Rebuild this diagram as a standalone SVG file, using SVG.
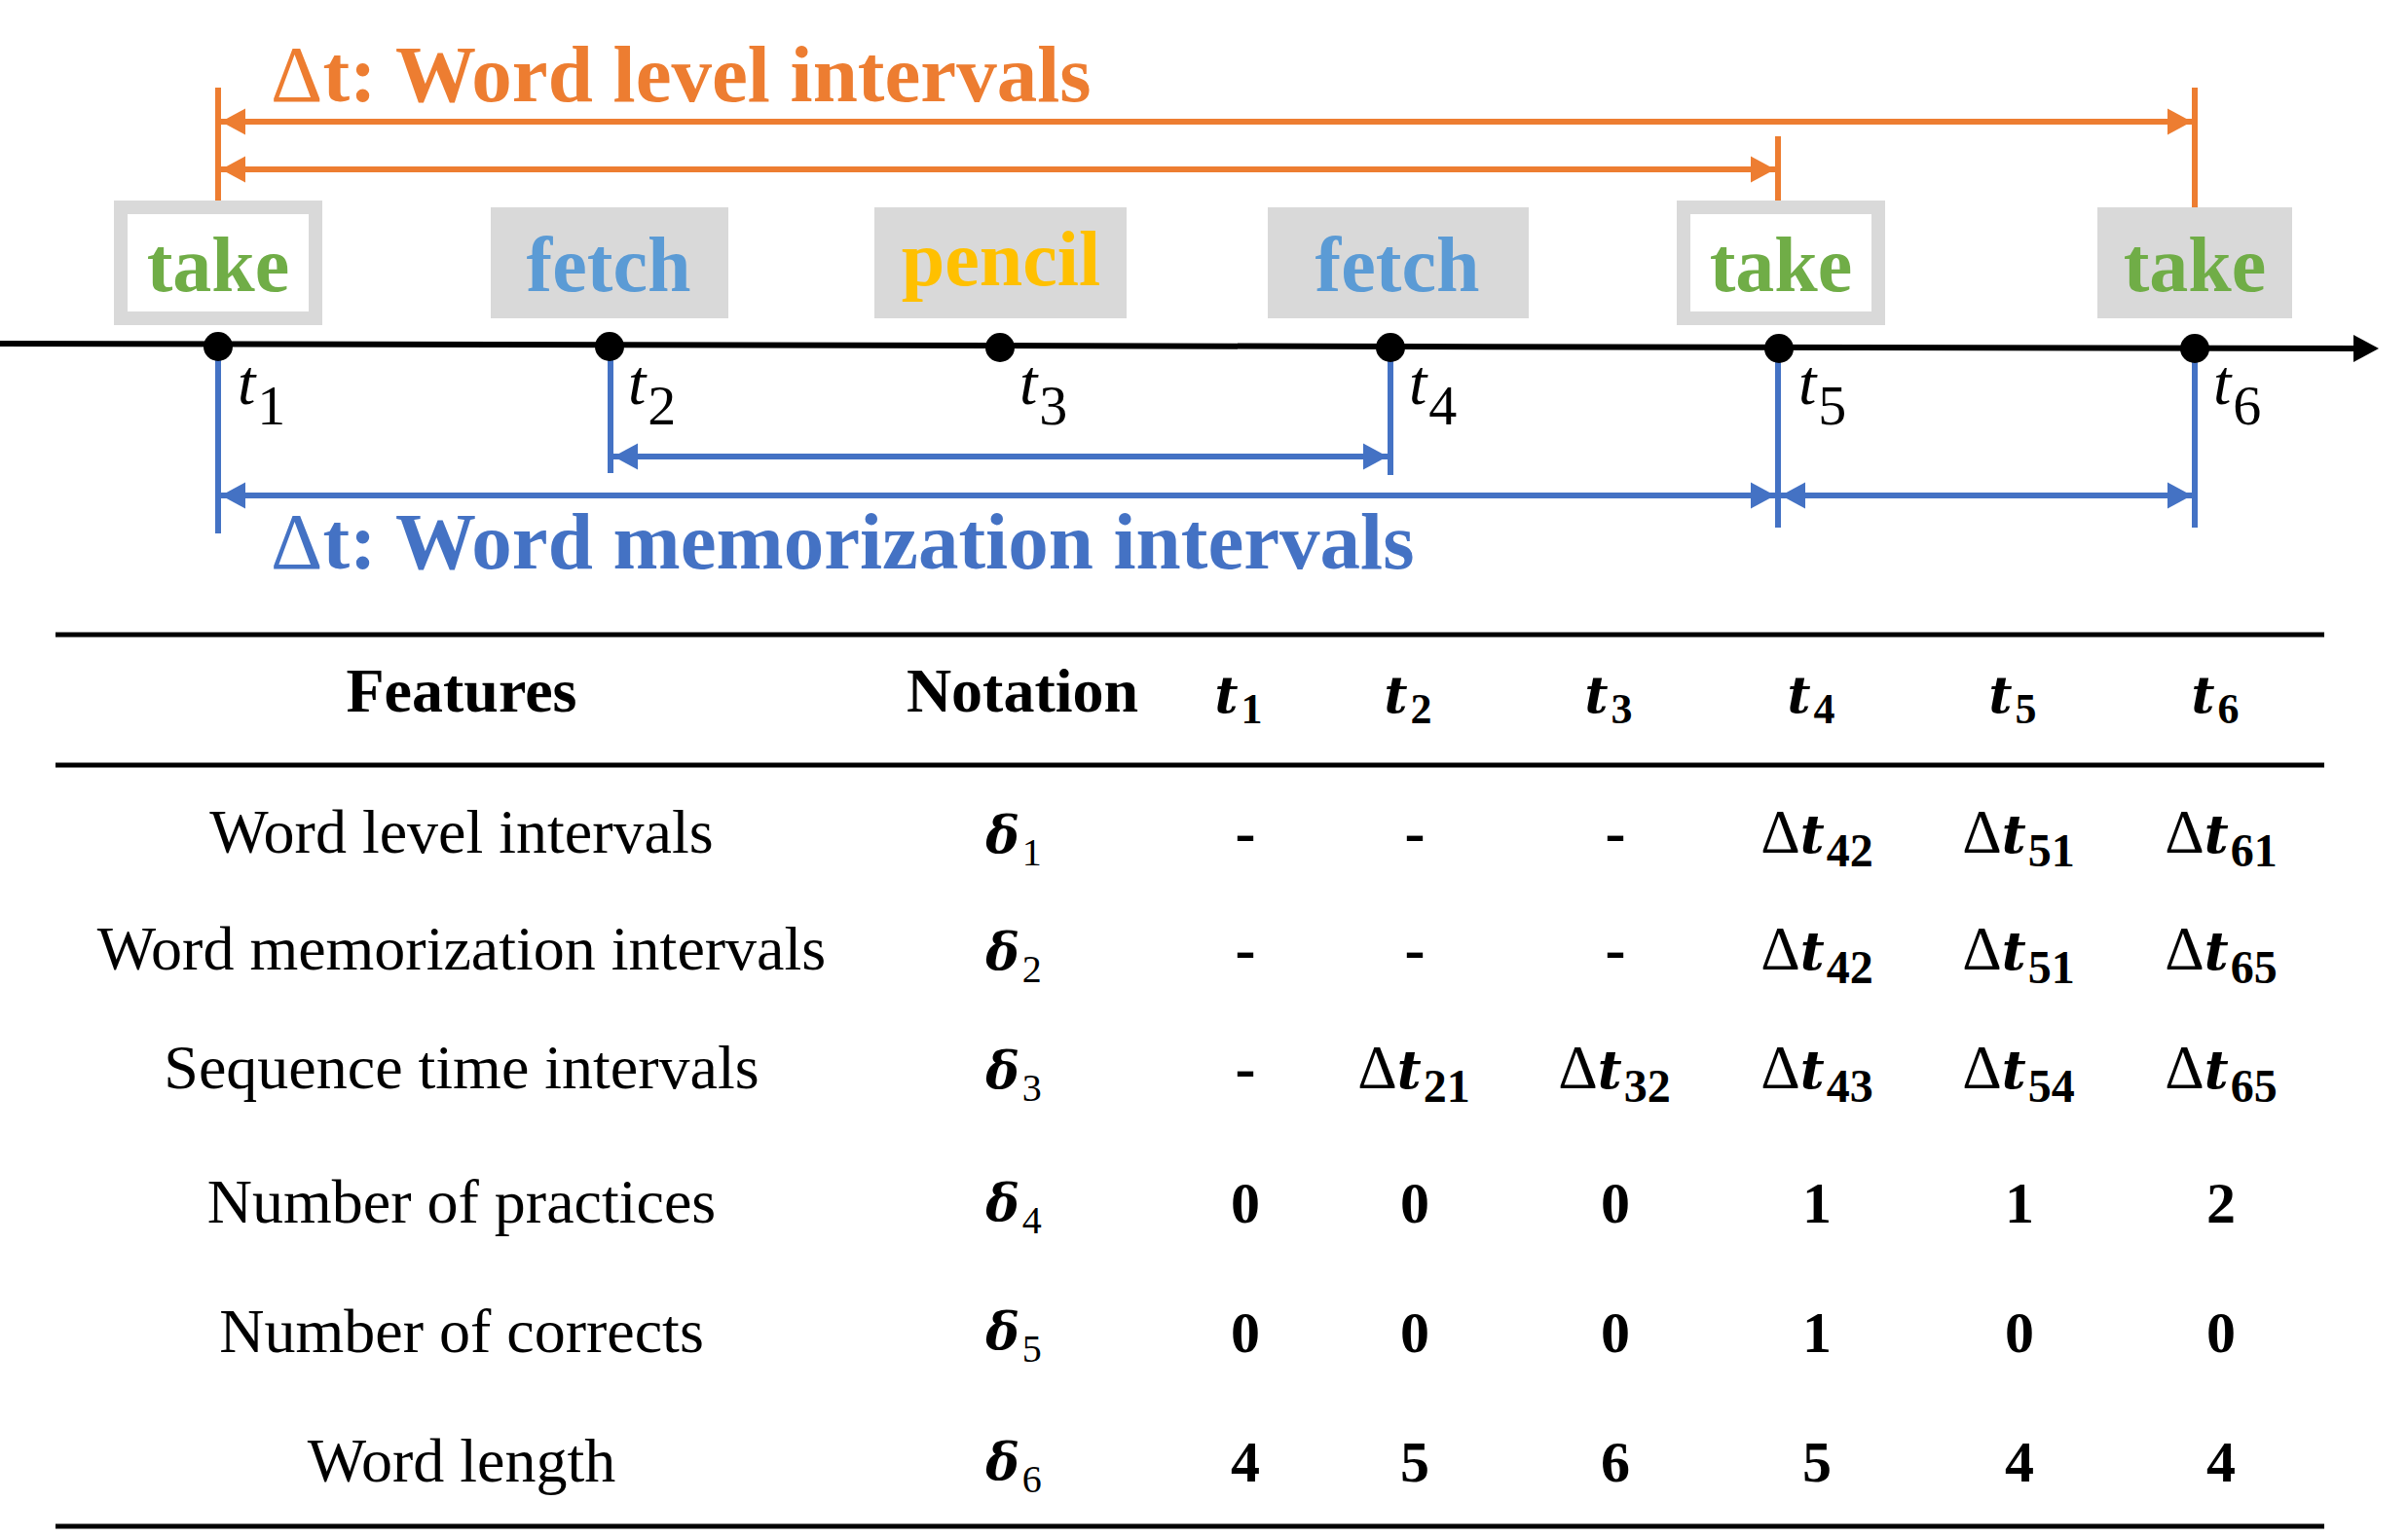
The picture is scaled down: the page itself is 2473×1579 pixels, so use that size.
<svg xmlns="http://www.w3.org/2000/svg" width="2473" height="1579" viewBox="0 0 2473 1579">
<style>
.serif{font-family:"Liberation Serif","Times New Roman",serif}
.word{font-family:"Liberation Serif",serif;font-weight:bold;font-size:80px;text-anchor:middle}
.title{font-family:"Liberation Serif",serif;font-weight:bold;font-size:83px}
.tl{font-family:"Liberation Serif",serif;font-style:italic;font-size:66px;fill:#000}
.tsub{font-family:"Liberation Serif",serif;font-style:normal;font-size:58px}
.hdr{font-family:"Liberation Serif",serif;font-weight:bold;font-size:64px;text-anchor:middle}
.lbl{font-family:"Liberation Serif",serif;font-size:64px;text-anchor:middle}
.num{font-family:"Liberation Serif",serif;font-weight:bold;font-size:60px;text-anchor:middle}
.dash{font-family:"Liberation Serif",serif;font-weight:bold;font-size:63px;text-anchor:middle}
.cell{text-anchor:middle}
.D{font-family:"Liberation Serif",serif;font-size:63px;font-style:normal;font-weight:normal}
.ct{font-family:"DejaVu Serif",serif;font-weight:bold;font-style:italic;font-size:54px}
.cs{font-family:"Liberation Serif",serif;font-weight:bold;font-style:normal;font-size:48px}
.ht{font-family:"DejaVu Serif",serif;font-weight:bold;font-style:italic;font-size:52px}
.hs{font-family:"Liberation Serif",serif;font-weight:bold;font-style:normal;font-size:44px}
.dl{font-family:"DejaVu Serif",serif;font-weight:bold;font-style:italic;font-size:52px}
.ds{font-family:"Liberation Serif",serif;font-weight:normal;font-style:normal;font-size:40px}
.gbox{fill:#D9D9D9}
.wbox{fill:#FFFFFF;stroke:#D9D9D9;stroke-width:14}
.or{stroke:#ED7D31;stroke-width:6;fill:none}
.bl{stroke:#4472C4;stroke-width:6;fill:none}
.rule{stroke:#000;stroke-width:5}
</style>
<defs>
<marker id="ao" markerUnits="userSpaceOnUse" markerWidth="26" markerHeight="28" refX="25" refY="14" orient="auto-start-reverse"><path d="M0,0.5 L25,14 L0,27.5 z" fill="#ED7D31"/></marker>
<marker id="ab" markerUnits="userSpaceOnUse" markerWidth="26" markerHeight="28" refX="25" refY="14" orient="auto-start-reverse"><path d="M0,0.5 L25,14 L0,27.5 z" fill="#4472C4"/></marker>
</defs>

<rect width="2473" height="1579" fill="#fff"/>

<!-- titles -->
<text id="title-word-level" class="title" x="278" y="104" fill="#ED7D31"><tspan font-weight="normal">Δ</tspan>t: Word level intervals</text>
<text id="title-word-mem" class="title" x="278" y="584" fill="#4472C4"><tspan font-weight="normal">Δ</tspan>t: Word memorization intervals</text>

<!-- word nodes -->
<g id="node-take1"><rect class="wbox" x="124" y="213" width="200" height="114"/><text class="word" x="224" y="299" fill="#70AD47">take</text></g>
<g id="node-fetch1"><rect class="gbox" x="504" y="213" width="244" height="114"/><text class="word" x="625" y="299" fill="#5B9BD5">fetch</text></g>
<g id="node-pencil"><rect class="gbox" x="898" y="213" width="259" height="114"/><text class="word" x="1028" y="293" fill="#FFC000">pencil</text></g>
<g id="node-fetch2"><rect class="gbox" x="1302" y="213" width="268" height="114"/><text class="word" x="1435" y="299" fill="#5B9BD5">fetch</text></g>
<g id="node-take5"><rect class="wbox" x="1729" y="213" width="200" height="114"/><text class="word" x="1829" y="299" fill="#70AD47">take</text></g>
<g id="node-take6"><rect class="gbox" x="2154" y="213" width="200" height="114"/><text class="word" x="2254" y="299" fill="#70AD47">take</text></g>

<!-- timeline -->
<g id="timeline">
<line x1="0" y1="353" x2="2420" y2="358" stroke="#000" stroke-width="6"/>
<path d="M2417,344 L2443,358 L2417,372 z" fill="#000"/>
</g>

<!-- connectors -->
<g id="connectors">
<line class="or" x1="224" y1="90" x2="224" y2="206"/>
<line class="or" x1="1826" y1="140" x2="1826" y2="206"/>
<line class="or" x1="2254" y1="90" x2="2254" y2="213"/>
<line class="or" x1="227" y1="125" x2="2251" y2="125" marker-start="url(#ao)" marker-end="url(#ao)"/>
<line class="or" x1="227" y1="174" x2="1823" y2="174" marker-start="url(#ao)" marker-end="url(#ao)"/>

<line class="bl" x1="224" y1="370" x2="224" y2="548"/>
<line class="bl" x1="627" y1="370" x2="627" y2="486"/>
<line class="bl" x1="1428" y1="370" x2="1428" y2="488"/>
<line class="bl" x1="1826" y1="370" x2="1826" y2="542"/>
<line class="bl" x1="2254" y1="370" x2="2254" y2="542"/>
<line class="bl" x1="630" y1="469" x2="1425" y2="469" marker-start="url(#ab)" marker-end="url(#ab)"/>
<line class="bl" x1="227" y1="509" x2="1823" y2="509" marker-start="url(#ab)" marker-end="url(#ab)"/>
<line class="bl" x1="1829" y1="509" x2="2251" y2="509" marker-start="url(#ab)" marker-end="url(#ab)"/>
</g>

<!-- time points -->
<g id="point-t1"><circle cx="224" cy="356" r="15"/><text class="tl" x="244" y="415">t<tspan class="tsub" dx="2" dy="21">1</tspan></text></g>
<g id="point-t2"><circle cx="626" cy="356" r="15"/><text class="tl" x="645" y="415">t<tspan class="tsub" dx="2" dy="21">2</tspan></text></g>
<g id="point-t3"><circle cx="1027" cy="357" r="15"/><text class="tl" x="1047" y="415">t<tspan class="tsub" dx="2" dy="21">3</tspan></text></g>
<g id="point-t4"><circle cx="1428" cy="357" r="15"/><text class="tl" x="1447" y="415">t<tspan class="tsub" dx="2" dy="21">4</tspan></text></g>
<g id="point-t5"><circle cx="1827" cy="358" r="15"/><text class="tl" x="1847" y="415">t<tspan class="tsub" dx="2" dy="21">5</tspan></text></g>
<g id="point-t6"><circle cx="2254" cy="358" r="15"/><text class="tl" x="2273" y="415">t<tspan class="tsub" dx="2" dy="21">6</tspan></text></g>

<!-- table -->
<g id="table">
<line class="rule" x1="57" y1="652" x2="2387" y2="652"/>
<line class="rule" x1="57" y1="786" x2="2387" y2="786"/>
<line class="rule" x1="57" y1="1568" x2="2387" y2="1568"/>

<text class="hdr" x="474" y="731">Features</text>
<text class="hdr" x="1050" y="731">Notation</text>
<text class="cell" x="1272" y="732"><tspan class="ht">t</tspan><tspan class="hs" dx="3" dy="11">1</tspan></text>
<text class="cell" x="1446" y="732"><tspan class="ht">t</tspan><tspan class="hs" dx="3" dy="11">2</tspan></text>
<text class="cell" x="1652" y="732"><tspan class="ht">t</tspan><tspan class="hs" dx="3" dy="11">3</tspan></text>
<text class="cell" x="1860" y="732"><tspan class="ht">t</tspan><tspan class="hs" dx="3" dy="11">4</tspan></text>
<text class="cell" x="2067" y="732"><tspan class="ht">t</tspan><tspan class="hs" dx="3" dy="11">5</tspan></text>
<text class="cell" x="2275" y="732"><tspan class="ht">t</tspan><tspan class="hs" dx="3" dy="11">6</tspan></text>

<text class="lbl" x="474" y="876">Word level intervals</text>
<text class="lbl" x="474" y="996">Word memorization intervals</text>
<text class="lbl" x="474" y="1118">Sequence time intervals</text>
<text class="lbl" x="474" y="1256">Number of practices</text>
<text class="lbl" x="474" y="1389">Number of corrects</text>
<text class="lbl" x="474" y="1522">Word length</text>

<text class="cell" x="1041" y="876"><tspan class="dl">δ</tspan><tspan class="ds" dx="3" dy="13">1</tspan></text>
<text class="cell" x="1041" y="996"><tspan class="dl">δ</tspan><tspan class="ds" dx="3" dy="13">2</tspan></text>
<text class="cell" x="1041" y="1118"><tspan class="dl">δ</tspan><tspan class="ds" dx="3" dy="13">3</tspan></text>
<text class="cell" x="1041" y="1254"><tspan class="dl">δ</tspan><tspan class="ds" dx="3" dy="13">4</tspan></text>
<text class="cell" x="1041" y="1386"><tspan class="dl">δ</tspan><tspan class="ds" dx="3" dy="13">5</tspan></text>
<text class="cell" x="1041" y="1520"><tspan class="dl">δ</tspan><tspan class="ds" dx="3" dy="13">6</tspan></text>

<!-- row 1 -->
<text class="dash" x="1279" y="876">-</text>
<text class="dash" x="1453" y="876">-</text>
<text class="dash" x="1659" y="876">-</text>
<text class="cell" x="1866" y="876"><tspan class="D">Δ</tspan><tspan class="ct">t</tspan><tspan class="cs" dx="2" dy="14">42</tspan></text>
<text class="cell" x="2073" y="876"><tspan class="D">Δ</tspan><tspan class="ct">t</tspan><tspan class="cs" dx="2" dy="14">51</tspan></text>
<text class="cell" x="2281" y="876"><tspan class="D">Δ</tspan><tspan class="ct">t</tspan><tspan class="cs" dx="2" dy="14">61</tspan></text>
<!-- row 2 -->
<text class="dash" x="1279" y="996">-</text>
<text class="dash" x="1453" y="996">-</text>
<text class="dash" x="1659" y="996">-</text>
<text class="cell" x="1866" y="996"><tspan class="D">Δ</tspan><tspan class="ct">t</tspan><tspan class="cs" dx="2" dy="14">42</tspan></text>
<text class="cell" x="2073" y="996"><tspan class="D">Δ</tspan><tspan class="ct">t</tspan><tspan class="cs" dx="2" dy="14">51</tspan></text>
<text class="cell" x="2281" y="996"><tspan class="D">Δ</tspan><tspan class="ct">t</tspan><tspan class="cs" dx="2" dy="14">65</tspan></text>
<!-- row 3 -->
<text class="dash" x="1279" y="1118">-</text>
<text class="cell" x="1452" y="1118"><tspan class="D">Δ</tspan><tspan class="ct">t</tspan><tspan class="cs" dx="2" dy="14">21</tspan></text>
<text class="cell" x="1658" y="1118"><tspan class="D">Δ</tspan><tspan class="ct">t</tspan><tspan class="cs" dx="2" dy="14">32</tspan></text>
<text class="cell" x="1866" y="1118"><tspan class="D">Δ</tspan><tspan class="ct">t</tspan><tspan class="cs" dx="2" dy="14">43</tspan></text>
<text class="cell" x="2073" y="1118"><tspan class="D">Δ</tspan><tspan class="ct">t</tspan><tspan class="cs" dx="2" dy="14">54</tspan></text>
<text class="cell" x="2281" y="1118"><tspan class="D">Δ</tspan><tspan class="ct">t</tspan><tspan class="cs" dx="2" dy="14">65</tspan></text>
<!-- row 4 -->
<text class="num" x="1279" y="1256">0</text>
<text class="num" x="1453" y="1256">0</text>
<text class="num" x="1659" y="1256">0</text>
<text class="num" x="1866" y="1256">1</text>
<text class="num" x="2074" y="1256">1</text>
<text class="num" x="2281" y="1256">2</text>
<!-- row 5 -->
<text class="num" x="1279" y="1389">0</text>
<text class="num" x="1453" y="1389">0</text>
<text class="num" x="1659" y="1389">0</text>
<text class="num" x="1866" y="1389">1</text>
<text class="num" x="2074" y="1389">0</text>
<text class="num" x="2281" y="1389">0</text>
<!-- row 6 -->
<text class="num" x="1279" y="1522">4</text>
<text class="num" x="1453" y="1522">5</text>
<text class="num" x="1659" y="1522">6</text>
<text class="num" x="1866" y="1522">5</text>
<text class="num" x="2074" y="1522">4</text>
<text class="num" x="2281" y="1522">4</text>
</g>
</svg>
